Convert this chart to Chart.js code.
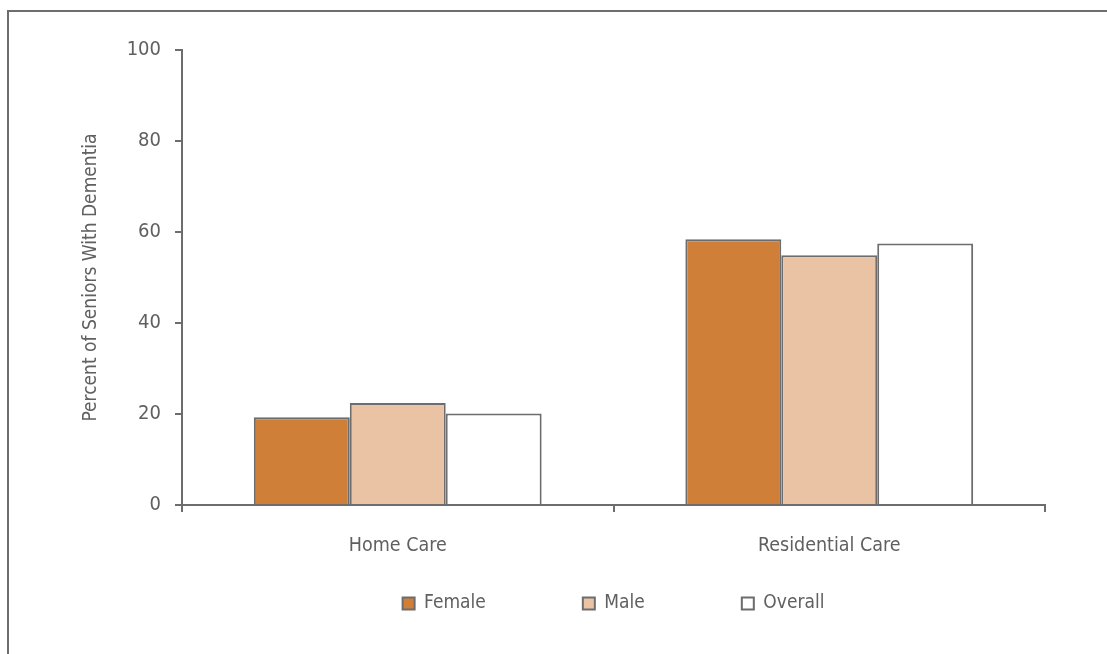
<!DOCTYPE html>
<html>
<head>
<meta charset="utf-8">
<script src="https://cdn.jsdelivr.net/npm/chart.js@4/dist/chart.umd.min.js"></script>
<style>
  html, body { margin: 0; padding: 0; background: #fff; }
  #wrap { position: relative; width: 1107px; height: 654px; }
  canvas { display: block; }
</style>
</head>
<body>
<div id="wrap"><canvas id="c" width="1107" height="654"></canvas></div>
<script>
const categories = ["Home Care", "Residential Care"];
const female = [19.3, 58.4];
const male = [22.4, 54.9];
const overall = [20.1, 57.5];
const yTicks = [0, 20, 40, 60, 80, 100];

const FONT = '"Liberation Sans Narrow", "DejaVu Sans Condensed", "Roboto", sans-serif';
const TEXT = '#606060';
const LINE = '#6d6d6f';
const LEGEND_PAD = 97;

const framePlugin = {
  id: 'frame',
  afterInit(chart) {
    // shift the library's own legend up so that wide horizontal spacing
    // does not reserve a tall box
    const lg = chart.legend;
    if (lg && !lg._patched) {
      const origDraw = lg.draw.bind(lg);
      lg.draw = function () {
        const t = this.top;
        this.top = t - LEGEND_PAD;
        origDraw();
        this.top = t;
      };
      lg._patched = true;
    }
  },
  beforeDraw(chart) {
    const ctx = chart.ctx;
    ctx.save();
    ctx.fillStyle = '#fff';
    ctx.fillRect(0, 0, chart.width, chart.height);
    ctx.strokeStyle = LINE;
    ctx.lineWidth = 2;
    ctx.strokeRect(8, 11, chart.width + 20, chart.height + 20);
    ctx.restore();
  }
};

Chart.defaults.font.family = FONT;
Chart.defaults.color = TEXT;

new Chart(document.getElementById('c'), {
  type: 'bar',
  data: {
    labels: categories,
    datasets: [
      { label: 'Female', data: female, backgroundColor: '#D07F38', borderColor: LINE, borderWidth: 2 },
      { label: 'Male', data: male, backgroundColor: '#EAC3A5', borderColor: LINE, borderWidth: 2 },
      { label: 'Overall', data: overall, backgroundColor: '#FFFFFF', borderColor: LINE, borderWidth: 2 }
    ]
  },
  options: {
    responsive: false,
    animation: false,
    devicePixelRatio: 1,
    layout: { padding: { left: 78, right: 62, top: 50, bottom: 0 } },
    datasets: { bar: { categoryPercentage: 0.667, barPercentage: 1.0 } },
    plugins: {
      tooltip: { enabled: false },
      legend: {
        position: 'bottom',
        fullSize: false,
        maxHeight: 60,
        labels: {
          font: { size: 19 },
          color: TEXT,
          boxWidth: 12,
          boxHeight: 12,
          padding: LEGEND_PAD,
          generateLabels(chart) {
            return chart.data.datasets.map((ds, i) => ({
              text: ds.label,
              fillStyle: ds.backgroundColor,
              strokeStyle: LINE,
              lineWidth: 2,
              fontColor: TEXT,
              datasetIndex: i,
              hidden: false
            }));
          }
        }
      }
    },
    scales: {
      x: {
        afterFit(scale) { scale.height = 89; },
        grid: { display: true, drawOnChartArea: false, drawTicks: true, tickLength: 7, color: LINE, lineWidth: 2, offset: true },
        border: { display: true, color: LINE, width: 2 },
        ticks: { font: { size: 19.5 }, color: TEXT, padding: 22 }
      },
      y: {
        min: 0, max: 100,
        afterBuildTicks(scale) { scale.ticks = yTicks.map(v => ({ value: v })); },
        afterFit(scale) { scale.width = 104; },
        grid: { display: true, drawOnChartArea: false, drawTicks: true, tickLength: 7, color: LINE, lineWidth: 2 },
        border: { display: true, color: LINE, width: 2 },
        ticks: { font: { size: 20 }, color: TEXT, padding: 14 },
        title: { display: true, text: 'Percent of Seniors With Dementia', font: { size: 19 }, color: TEXT, padding: { top: 2, bottom: 0 } }
      }
    }
  },
  plugins: [framePlugin]
});
</script>
</body>
</html>
